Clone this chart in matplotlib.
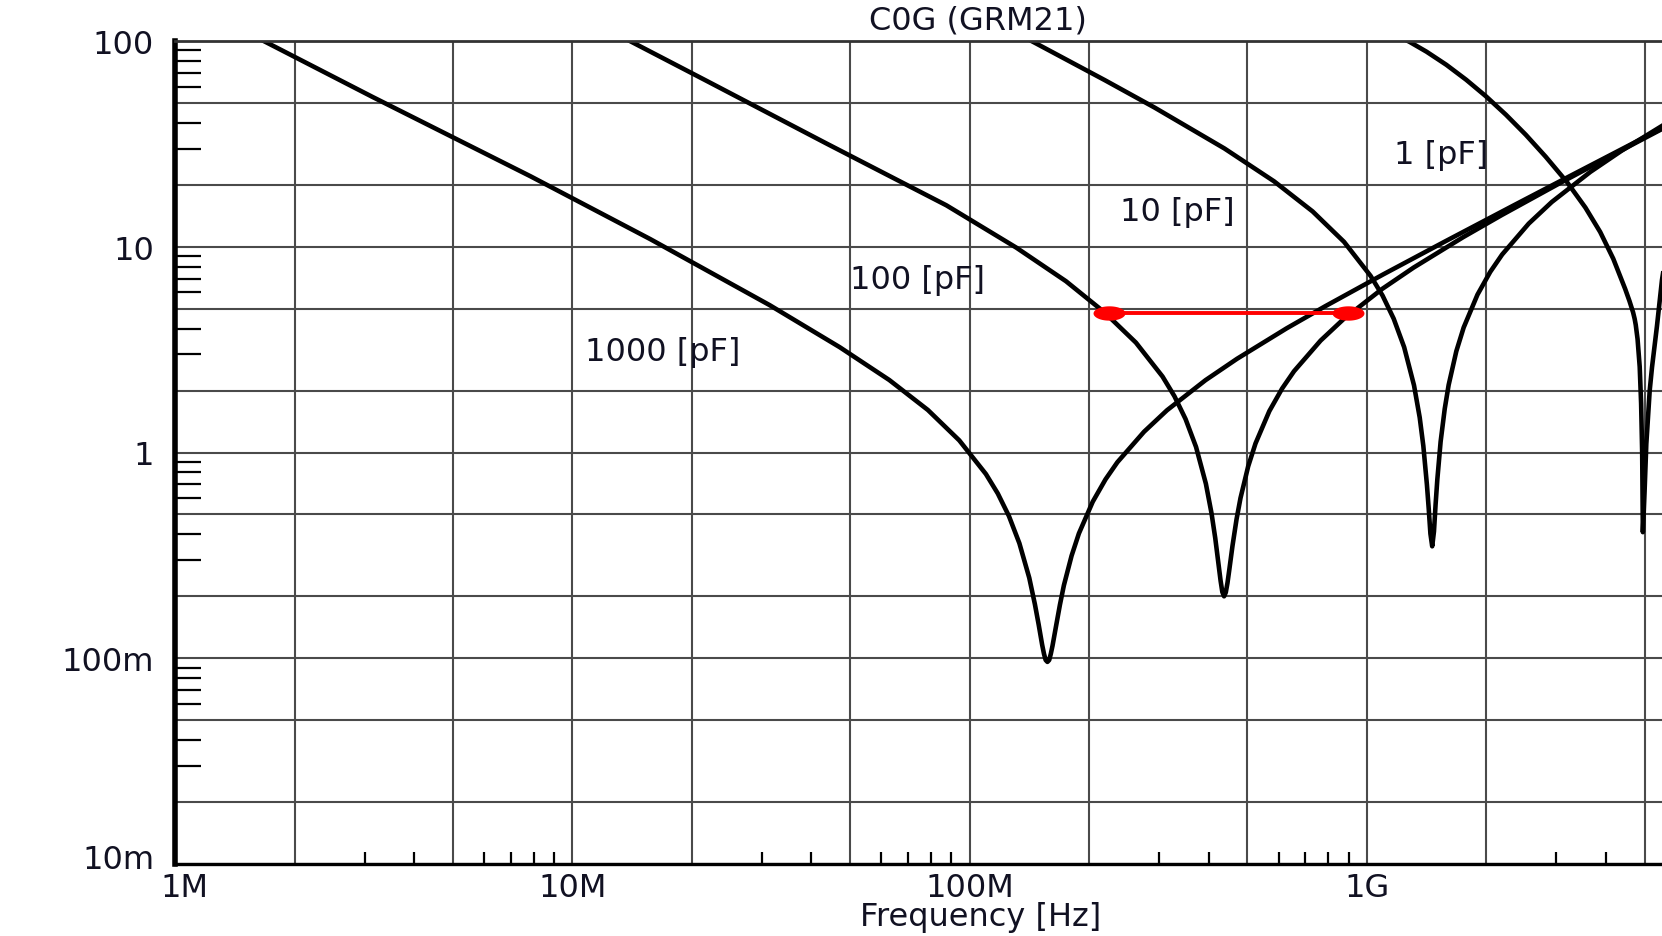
import numpy as np
import matplotlib
matplotlib.use("Agg")
import matplotlib.pyplot as plt
from matplotlib.path import Path
from matplotlib.ticker import FixedLocator, FixedFormatter
from matplotlib.transforms import ScaledTranslation

plt.rcParams['font.family'] = ['DejaVu Sans']
plt.rcParams['font.size'] = 23

# impedance curves: frequency [Hz], |Z| [ohm]
f_1000p = [1.5e6, 3.14e6, 7.85e6, 15.7e6, 31.4e6, 47.1e6, 62.8e6, 78.5e6, 94.2e6,
           109.9e6, 117.75e6, 125.6e6, 133.45e6, 141.3e6, 146.0e6, 149.2e6, 152.3e6,
           153.9e6, 155.4e6, 157e6, 158.6e6, 160.1e6, 161.7e6, 164.9e6, 168.8e6,
           172.7e6, 180.6e6, 188.4e6, 204.1e6, 219.8e6, 235.5e6, 274.8e6, 314e6,
           392.5e6, 471e6, 628e6, 785e6, 1.099e9, 1.57e9, 2.355e9, 3.14e9, 4.71e9, 5.65e9]
z_1000p = [111.4, 53.5, 22.0, 10.9, 5.2, 3.25, 2.25, 1.61, 1.145,
           0.786, 0.632, 0.491, 0.362, 0.246, 0.183, 0.146, 0.116,
           0.105, 0.098, 0.096, 0.098, 0.105, 0.115, 0.142, 0.182,
           0.226, 0.315, 0.404, 0.576, 0.740, 0.897, 1.261, 1.605,
           2.247, 2.853, 4.013, 5.136, 7.337, 10.59, 15.98, 21.35, 32.06, 38.49]

f_100p = [13.1e6, 21.85e6, 43.7e6, 87.4e6, 131.1e6, 174.8e6, 218.5e6, 262.2e6,
          305.9e6, 327.8e6, 349.6e6, 371.5e6, 393.3e6, 406.4e6, 415.2e6, 423.9e6,
          428.3e6, 432.6e6, 437e6, 441.4e6, 445.7e6, 450.1e6, 458.9e6, 469.8e6,
          480.7e6, 502.6e6, 524.4e6, 568.1e6, 611.8e6, 655.5e6, 764.8e6, 874e6,
          1.0925e9, 1.311e9, 1.748e9, 2.185e9, 3.059e9, 4.37e9, 5.68e9]
z_100p = [106.6, 63.8, 31.7, 15.9, 9.9, 6.8, 4.80, 3.42,
          2.34, 1.877, 1.454, 1.064, 0.705, 0.506, 0.384, 0.279,
          0.238, 0.210, 0.200, 0.209, 0.232, 0.266, 0.352, 0.474,
          0.601, 0.857, 1.107, 1.589, 2.046, 2.483, 3.5, 4.455,
          6.237, 7.92, 11.14, 14.26, 20.37, 29.4, 38.38]

f_10p = [131.4e6, 146e6, 219e6, 292e6, 438e6, 584e6, 730e6, 876e6, 1.022e9,
         1.095e9, 1.168e9, 1.241e9, 1.314e9, 1.358e9, 1.387e9, 1.416e9, 1.431e9,
         1.445e9, 1.46e9, 1.475e9, 1.489e9, 1.504e9, 1.533e9, 1.570e9, 1.606e9,
         1.679e9, 1.752e9, 1.898e9, 2.044e9, 2.19e9, 2.555e9, 2.92e9, 3.65e9,
         4.38e9, 5.84e9]
z_10p = [109.1, 98.0, 64.5, 47.5, 30.03, 20.79, 14.85, 10.56, 7.21,
         5.79, 4.47, 3.25, 2.12, 1.48, 1.075, 0.697, 0.532,
         0.403, 0.35, 0.413, 0.559, 0.739, 1.129, 1.63, 2.129,
         3.105, 4.049, 5.849, 7.551, 9.17, 12.96, 16.5, 23.1,
         29.33, 41.25]

f_1p = [1.2e9, 1.282e9, 1.413e9, 1.585e9, 1.778e9, 1.995e9, 2.239e9, 2.512e9,
        2.818e9, 3.19e9, 3.548e9, 3.865e9, 4.169e9, 4.467e9, 4.58e9, 4.677e9,
        4.72e9, 4.75e9, 4.8e9, 4.86e9, 4.9e9, 4.93e9, 4.95e9, 5.0e9, 5.05e9,
        5.15e9, 5.22e9, 5.37e9, 5.53e9, 5.7e9]
z_1p = [105.7, 98.9, 88.7, 76.6, 64.8, 53.8, 43.8, 35.0,
        27.4, 20.6, 15.5, 11.8, 8.75, 6.24, 5.45, 4.8,
        4.46, 4.17, 3.56, 2.61, 1.73, 1.0, 0.41, 0.65, 1.1,
        2.0, 2.6, 4.1, 6.9, 10.0]

# red marker line (same |Z| on both sides of the 100 pF resonance)
red_f = [224e6, 896e6]
red_z = [4.74, 4.74]

curve_names = ['1000 [pF]', '100 [pF]', '10 [pF]', '1 [pF]']
name_f = [16.9e6, 73.8e6, 333e6, 1.54e9]
name_z = [3.1, 6.97, 14.9, 28.2]

x_grid = [1e6, 2e6, 5e6, 1e7, 2e7, 5e7, 1e8, 2e8, 5e8, 1e9, 2e9, 5e9]
x_text = ['1M', '', '', '10M', '', '', '100M', '', '', '1G', '', '']
y_grid = [0.01, 0.02, 0.05, 0.1, 0.2, 0.5, 1, 2, 5, 10, 20, 50, 100]
y_text = ['10m', '', '', '100m', '', '', '1', '', '', '10', '', '', '100']

W, H = 1662, 937
x0, y_top, y_bot = 175, 42, 865
decade_px = 397.3
x_max = 10 ** (6 + (W - x0) / decade_px)

fig = plt.figure(figsize=(W / 100, H / 100), dpi=100)
ax = fig.add_axes([x0 / W, (H - y_bot) / H, 1 - x0 / W, (y_bot - y_top) / H])
ax.set_xscale('log')
ax.set_yscale('log')
ax.set_xlim(1e6, x_max)
ax.set_ylim(0.01, 100)

ink = '#111122'
for f, z in [(f_1000p, z_1000p), (f_100p, z_100p), (f_10p, z_10p), (f_1p, z_1p)]:
    ax.plot(f, z, color='black', lw=3.3, zorder=3)

t = np.linspace(0, 2 * np.pi, 60)
ellipse = Path(np.column_stack([np.cos(t), 0.45 * np.sin(t)]))
ax.plot(red_f, red_z, color='#ff0000', lw=2.8, marker=ellipse, markersize=23,
        markeredgewidth=0, zorder=4)

for name, f, z in zip(curve_names, name_f, name_z):
    ax.text(f, z, name, ha='center', va='center', color=ink, zorder=5)

ax.xaxis.set_major_locator(FixedLocator(x_grid))
ax.xaxis.set_major_formatter(FixedFormatter(x_text))
ax.yaxis.set_major_locator(FixedLocator(y_grid))
ax.yaxis.set_major_formatter(FixedFormatter(y_text))

x_minor = [k * 10 ** n for n in range(6, 10) for k in (3, 4, 6, 7, 8, 9)]
y_minor = [k * 10.0 ** n for n in range(-2, 2) for k in (3, 4, 6, 7, 8, 9)]
ax.xaxis.set_minor_locator(FixedLocator([v for v in x_minor if v < x_max]))
ax.yaxis.set_minor_locator(FixedLocator(y_minor))
ax.xaxis.set_minor_formatter(FixedFormatter([]))
ax.yaxis.set_minor_formatter(FixedFormatter([]))

ax.grid(True, which='major', color='#4a4a4a', lw=1.5, zorder=1)
ax.tick_params(which='major', length=0, colors=ink)
ax.tick_params(axis='x', which='major', pad=6)
ax.tick_params(axis='y', which='major', pad=15)
ax.tick_params(axis='y', which='minor', direction='in', length=19, width=1.6, color='black')
ax.tick_params(axis='x', which='minor', direction='in', length=9, width=1.6, color='black')

# nudge the two corner labels apart like in the original
ylabs = ax.get_yticklabels()
ylabs[0].set_transform(ylabs[0].get_transform() + ScaledTranslation(0, 0.08, fig.dpi_scale_trans))
xlabs = ax.get_xticklabels()
xlabs[0].set_transform(xlabs[0].get_transform() + ScaledTranslation(0.09, 0, fig.dpi_scale_trans))

ax.spines['right'].set_visible(False)
ax.spines['left'].set_linewidth(4)
ax.spines['bottom'].set_linewidth(2.4)
ax.spines['top'].set_linewidth(2)
ax.spines['top'].set_color('#333333')
for s in ax.spines.values():
    s.set_zorder(6)

fig.text(978 / W, 1 - 21 / H, 'C0G (GRM21)', ha='center', va='center', color=ink)
fig.text(981 / W, 1 - 918 / H, 'Frequency [Hz]', ha='center', va='center', color=ink)

fig.savefig('out.png', dpi=100)
